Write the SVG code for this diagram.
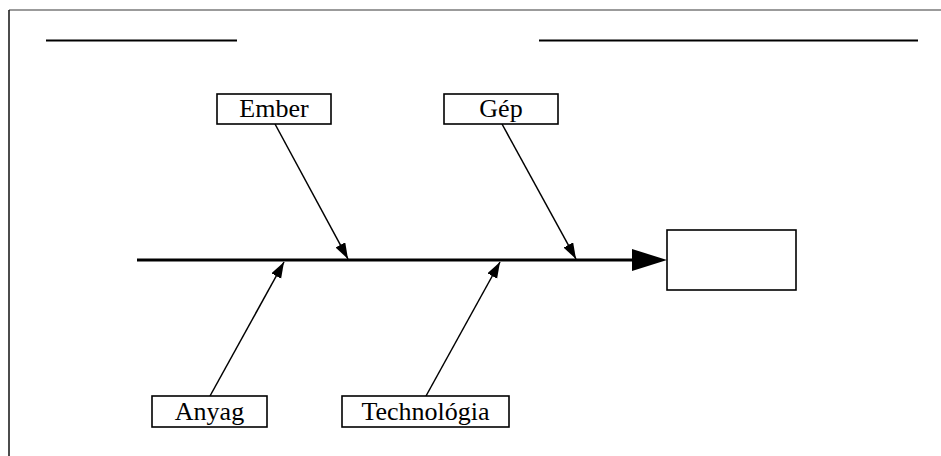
<svg xmlns="http://www.w3.org/2000/svg" width="941" height="456" viewBox="0 0 941 456">
  <style>
    .label { font-family: "Liberation Serif", "Times New Roman", serif; font-size: 26px; fill: #000; text-anchor: middle; }
    .box { fill: #fff; stroke: #000; stroke-width: 1.6; }
    .bone { stroke: #000; stroke-width: 1.5; fill: none; marker-end: url(#head); }
    .rule { stroke: #000; stroke-width: 2.2; }
  </style>
  <defs>
    <marker id="head" markerUnits="userSpaceOnUse" markerWidth="17" markerHeight="12" refX="16" refY="5.5" orient="auto">
      <path d="M0,0 L16,5.5 L0,11 z" fill="#000"/>
    </marker>
    <marker id="bighead" markerUnits="userSpaceOnUse" markerWidth="36" markerHeight="23" refX="13" refY="11" orient="auto">
      <path d="M0,0 L35,11 L0,22 z" fill="#000"/>
    </marker>
  </defs>

  <rect width="941" height="456" fill="#fff"/>

  <!-- page frame (top and left edges) -->
  <line x1="9" y1="10" x2="941" y2="10" stroke="#7a7a7a" stroke-width="1.5"/>
  <line x1="9" y1="10" x2="9" y2="456" stroke="#111" stroke-width="1.5"/>

  <!-- header rules -->
  <line class="rule" x1="46" y1="40.5" x2="237" y2="40.5"/>
  <line class="rule" x1="539" y1="40.5" x2="918" y2="40.5"/>

  <g id="connectors">
    <line x1="137" y1="260" x2="645" y2="260" stroke="#000" stroke-width="3" marker-end="url(#bighead)"/>
    <line class="bone" x1="275" y1="124" x2="348" y2="259"/>
    <line class="bone" x1="502" y1="124" x2="576" y2="259"/>
    <line class="bone" x1="210" y1="396" x2="284" y2="262"/>
    <line class="bone" x1="426" y1="396" x2="500" y2="262"/>
  </g>

  <g id="ember">
    <rect class="box" x="217" y="94" width="114" height="30"/>
    <text class="label" x="274" y="117">Ember</text>
  </g>
  <g id="gep">
    <rect class="box" x="444" y="94" width="114" height="30"/>
    <text class="label" x="501" y="117">Gép</text>
  </g>
  <g id="anyag">
    <rect class="box" x="152" y="396" width="115" height="31"/>
    <text class="label" x="209.5" y="420">Anyag</text>
  </g>
  <g id="technologia">
    <rect class="box" x="342" y="396" width="167" height="31"/>
    <text class="label" x="425.5" y="420">Technológia</text>
  </g>
  <g id="result">
    <rect class="box" x="667" y="230" width="129" height="60" stroke-width="2"/>
  </g>
</svg>
